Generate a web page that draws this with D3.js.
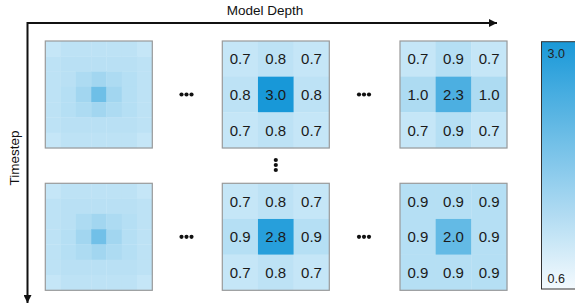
<!DOCTYPE html>
<html><head><meta charset="utf-8">
<script src="https://cdn.jsdelivr.net/npm/d3@7"></script>
<style>body{margin:0;background:#fff}svg{display:block;font-family:"Liberation Sans",Arial,Helvetica,sans-serif}</style>
</head><body><svg id="c" width="575" height="307"></svg>
<script>
// ---- data ----
const rowLabels = ["t0", "tN"];
const colLabels = ["shallow", "mid", "deep"];
const fineTop = [
  [0.70,0.80,0.80,0.80,0.80,0.80,0.70],
  [0.80,0.85,0.85,0.85,0.85,0.85,0.80],
  [0.80,0.85,1.00,1.15,1.00,0.90,0.80],
  [0.80,0.90,1.15,1.85,1.15,0.90,0.80],
  [0.80,0.90,1.00,1.15,1.00,0.90,0.80],
  [0.80,0.85,0.85,0.85,0.85,0.85,0.80],
  [0.70,0.80,0.80,0.80,0.80,0.80,0.70]
];
const fineBottom = [
  [0.70,0.80,0.80,0.80,0.80,0.80,0.70],
  [0.80,0.85,0.85,0.85,0.85,0.85,0.80],
  [0.80,0.85,1.00,1.15,1.00,0.90,0.80],
  [0.80,0.90,1.15,1.80,1.15,0.90,0.80],
  [0.80,0.90,1.00,1.15,1.00,0.90,0.80],
  [0.80,0.85,0.85,0.85,0.85,0.85,0.80],
  [0.70,0.80,0.80,0.80,0.80,0.80,0.70]
];
const midTop = [[0.7,0.8,0.7],[0.8,3.0,0.8],[0.7,0.8,0.7]];
const deepTop = [[0.7,0.9,0.7],[1.0,2.3,1.0],[0.7,0.9,0.7]];
const midBottom = [[0.7,0.8,0.7],[0.9,2.8,0.9],[0.7,0.8,0.7]];
const deepBottom = [[0.9,0.9,0.9],[0.9,2.0,0.9],[0.9,0.9,0.9]];
const colorbarTicks = [0.6, 3.0];
const xTitle = "Model Depth";
const yTitle = "Timestep";

// ---- scales ----
const color = d3.scaleLinear().domain([0.6, 1.0, 3.0])
  .range(["#cde9f8", "#addbf2", "#1898d8"]).clamp(true);
const barColor = d3.scaleLinear().domain([0.6, 1.4, 3.0])
  .range(["#f4fafe", "#a9d8f1", "#1a99d8"]);

const svg = d3.select("#c");
const panelSize = 107;
const colX = d3.scaleOrdinal().domain(colLabels).range([45.3, 222.3, 400]);
const rowY = d3.scaleOrdinal().domain(rowLabels).range([41, 183.3]);

const panels = [
  {r:"t0", c:"shallow", m:fineTop, labels:false},
  {r:"t0", c:"mid", m:midTop, labels:true},
  {r:"t0", c:"deep", m:deepTop, labels:true},
  {r:"tN", c:"shallow", m:fineBottom, labels:false},
  {r:"tN", c:"mid", m:midBottom, labels:true},
  {r:"tN", c:"deep", m:deepBottom, labels:true}
];

panels.forEach(p => {
  const n = p.m.length;
  const band = d3.scaleBand().domain(d3.range(n)).range([0, panelSize]);
  const g = svg.append("g").attr("transform", `translate(${colX(p.c)},${rowY(p.r)})`);
  const cells = p.m.flatMap((row, i) => row.map((v, j) => ({i, j, v})));
  g.selectAll("rect.cell").data(cells).join("rect").attr("class","cell")
    .attr("x", d => band(d.j)).attr("y", d => band(d.i))
    .attr("width", band.bandwidth() + 0.3).attr("height", band.bandwidth() + 0.3)
    .attr("fill", d => color(d.v));
  if (p.labels) {
    g.selectAll("text").data(cells).join("text")
      .attr("x", d => band(d.j) + band.bandwidth()/2)
      .attr("y", d => band(d.i) + band.bandwidth()/2)
      .attr("text-anchor", "middle").attr("dy", "0.36em")
      .attr("font-size", 15).attr("fill", "#1a1a1a")
      .text(d => d3.format(".1f")(d.v));
  }
  g.append("rect").attr("width", panelSize).attr("height", panelSize)
    .attr("fill", "none").attr("stroke", "#999").attr("stroke-width", 1.2);
});

// ellipsis dots
function hdots(cx, cy) {
  svg.append("g").selectAll("circle").data([-5, 0, 5]).join("circle")
    .attr("cx", d => cx + d).attr("cy", cy).attr("r", 2.1).attr("fill", "#111");
}
function vdots(cx, cy) {
  svg.append("g").selectAll("circle").data([-5, 0, 5]).join("circle")
    .attr("cx", cx).attr("cy", d => cy + d).attr("r", 2.1).attr("fill", "#111");
}
const midY = r => rowY(r) + panelSize/2;
hdots(186.5, midY("t0")); hdots(364, midY("t0"));
hdots(186.5, midY("tN")); hdots(364, midY("tN"));
vdots(colX("mid") + panelSize/2, 165);

// arrows
const defs = svg.append("defs");
defs.append("marker").attr("id","ah").attr("viewBox","0 0 10 10")
  .attr("refX", 10).attr("refY", 5).attr("markerWidth", 8).attr("markerHeight", 8)
  .attr("markerUnits","userSpaceOnUse").attr("orient","auto")
  .append("path").attr("d","M0,0L10,5L0,10Z").attr("fill","#111");
svg.append("line").attr("x1", 27.5).attr("y1", 23).attr("x2", 497).attr("y2", 23)
  .attr("stroke","#111").attr("stroke-width",2).attr("marker-end","url(#ah)");
svg.append("line").attr("x1", 27.5).attr("y1", 22).attr("x2", 27.5).attr("y2", 303)
  .attr("stroke","#111").attr("stroke-width",2).attr("marker-end","url(#ah)");
svg.append("text").attr("x", 265).attr("y", 15).attr("text-anchor","middle")
  .attr("font-size", 13.5).attr("fill","#111").text(xTitle);
svg.append("text").attr("transform","translate(18.5,158) rotate(-90)").attr("text-anchor","middle")
  .attr("font-size", 13.5).attr("fill","#111").text(yTitle);

// colorbar
const cbX = 541.5, cbTop = 41.7, cbBot = 289;
const cbY = d3.scaleLinear().domain([0.6, 3.0]).range([cbBot, cbTop]);
const grad = defs.append("linearGradient").attr("id","cbg")
  .attr("x1",0).attr("y1",1).attr("x2",0).attr("y2",0);
d3.range(0, 1.0001, 0.1).forEach(t => {
  const v = 0.6 + t * 2.4;
  grad.append("stop").attr("offset", t).attr("stop-color", barColor(v));
});
svg.append("rect").attr("x", cbX).attr("y", cbY(3.0)).attr("width", 50)
  .attr("height", cbY(0.6) - cbY(3.0)).attr("fill","url(#cbg)")
  .attr("stroke","#333").attr("stroke-width",1);
svg.selectAll("text.cb").data(colorbarTicks).join("text").attr("class","cb")
  .attr("x", cbX + 6).attr("y", d => d === 3.0 ? cbY(d) + 16 : cbY(d) - 6)
  .attr("font-size", 12.5).attr("fill","#222").text(d => d3.format(".1f")(d));
</script></body></html>
